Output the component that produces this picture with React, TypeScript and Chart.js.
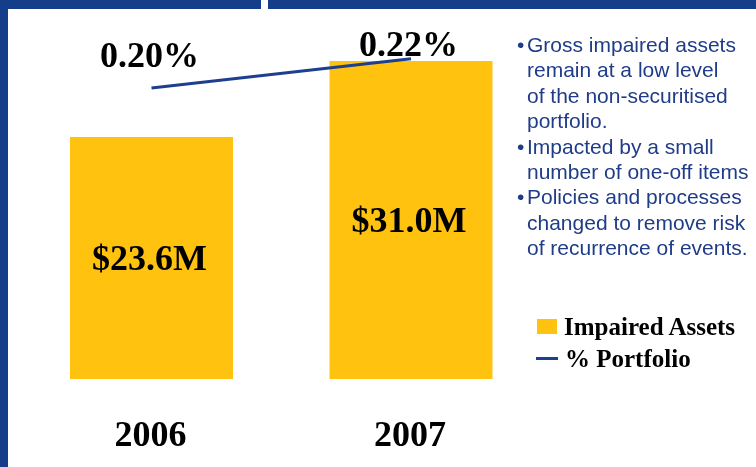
import React, { useEffect, useRef } from "react";
import { Chart, registerables } from "chart.js";

Chart.register(...registerables);

const years = ["2006", "2007"];
const impairedAssets = [23.6, 31.0];
const impairedLabels = ["$23.6M", "$31.0M"];
const pctPortfolio = [0.2, 0.22];
const pctLabels = ["0.20%", "0.22%"];
const bullets = [
  ["Gross impaired assets", "remain at a low level", "of the non-securitised", "portfolio."],
  ["Impacted by a small", "number of one-off items"],
  ["Policies and processes", "changed to remove risk", "of recurrence of events."],
];
const legendLabels = ["Impaired Assets", "% Portfolio"];

const NAVY = "#153E8A";
const LINE = "#1E3F8E";
const GOLD = "#FFC20E";
const SERIF = '"Liberation Serif", "Times New Roman", serif';
const SANS = '"Liberation Sans", Arial, sans-serif';

const pctOffsets = [
  { dx: -2, dy: -21 },
  { dx: -2.5, dy: -3 },
];

const labelPlugin = {
  id: "labels",
  afterDatasetsDraw(chart: any) {
    const ctx = chart.ctx;
    ctx.save();
    ctx.fillStyle = "#000";
    ctx.textAlign = "center";
    ctx.textBaseline = "alphabetic";
    ctx.font = `bold 36px ${SERIF}`;
    const barMeta = chart.getDatasetMeta(0);
    barMeta.data.forEach((el: any, i: number) => {
      const mid = (el.y + el.base) / 2;
      ctx.fillText(impairedLabels[i], el.x - 2, mid + 12);
    });
    const lineMeta = chart.getDatasetMeta(1);
    lineMeta.data.forEach((el: any, i: number) => {
      const o = pctOffsets[i] || { dx: 0, dy: -10 };
      ctx.fillText(pctLabels[i], el.x + o.dx, el.y + o.dy);
    });
    const xs = chart.scales.x;
    years.forEach((y, i) => {
      ctx.fillText(y, xs.getPixelForValue(i) - 1, 446);
    });
    ctx.restore();
  },
};

function ChartCanvas() {
  const ref = useRef<HTMLCanvasElement | null>(null);
  useEffect(() => {
    if (!ref.current) return;
    const chart = new Chart(ref.current, {
      type: "bar",
      data: {
        labels: years,
        datasets: [
          {
            type: "bar",
            label: legendLabels[0],
            data: impairedAssets,
            backgroundColor: GOLD,
            borderWidth: 0,
            barPercentage: 0.628,
            categoryPercentage: 1,
            yAxisID: "y",
            order: 1,
          } as any,
          {
            type: "line",
            label: legendLabels[1],
            data: pctPortfolio,
            borderColor: LINE,
            borderWidth: 3,
            pointRadius: 0,
            fill: false,
            tension: 0,
            yAxisID: "y1",
            order: 0,
          } as any,
        ],
      },
      options: {
        responsive: false,
        animation: false,
        layout: { padding: { left: 21.75, right: 19.25, top: 20, bottom: 88 } },
        plugins: { legend: { display: false }, tooltip: { enabled: false } },
        scales: {
          x: { display: false, offset: true },
          y: { display: false, min: 0, max: 35 },
          y1: { display: false, min: 0, max: 0.2467, position: "right" },
        },
      },
      plugins: [labelPlugin],
    });
    return () => chart.destroy();
  }, []);
  return (
    <canvas
      ref={ref}
      width={560}
      height={467}
      style={{ position: "absolute", left: 0, top: 0, width: 560, height: 467 }}
    />
  );
}

export default function App() {
  return (
    <div
      style={{
        position: "fixed",
        left: 0,
        top: 0,
        width: 756,
        height: 467,
        background: "#fff",
        overflow: "hidden",
      }}
    >
      <div style={{ position: "absolute", left: 0, top: 0, width: 756, height: 9, background: NAVY }} />
      <div style={{ position: "absolute", left: 261, top: 0, width: 7, height: 9, background: "#fff" }} />
      <div style={{ position: "absolute", left: 0, top: 0, width: 8, height: 467, background: NAVY }} />
      <ChartCanvas />
      <div
        style={{
          position: "absolute",
          left: 527,
          top: 32,
          fontFamily: SANS,
          fontSize: 21,
          lineHeight: "25.4px",
          color: "#1F3C88",
          whiteSpace: "nowrap",
        }}
      >
        {bullets.map((lines, bi) => (
          <div key={bi} style={{ position: "relative" }}>
            <span style={{ position: "absolute", left: -10, top: 0 }}>•</span>
            {lines.map((l, li) => (
              <div key={li}>{l}</div>
            ))}
          </div>
        ))}
      </div>
      <div style={{ position: "absolute", left: 537, top: 319, width: 20, height: 15, background: GOLD }} />
      <div
        style={{
          position: "absolute",
          left: 564,
          top: 314,
          fontFamily: SERIF,
          fontWeight: "bold",
          fontSize: 25,
          lineHeight: "25px",
          color: "#000",
          whiteSpace: "nowrap",
        }}
      >
        {legendLabels[0]}
      </div>
      <div style={{ position: "absolute", left: 536, top: 357, width: 22, height: 3, background: LINE }} />
      <div
        style={{
          position: "absolute",
          left: 565,
          top: 346,
          fontFamily: SERIF,
          fontWeight: "bold",
          fontSize: 25,
          lineHeight: "25px",
          color: "#000",
          whiteSpace: "nowrap",
        }}
      >
        {legendLabels[1]}
      </div>
    </div>
  );
}
